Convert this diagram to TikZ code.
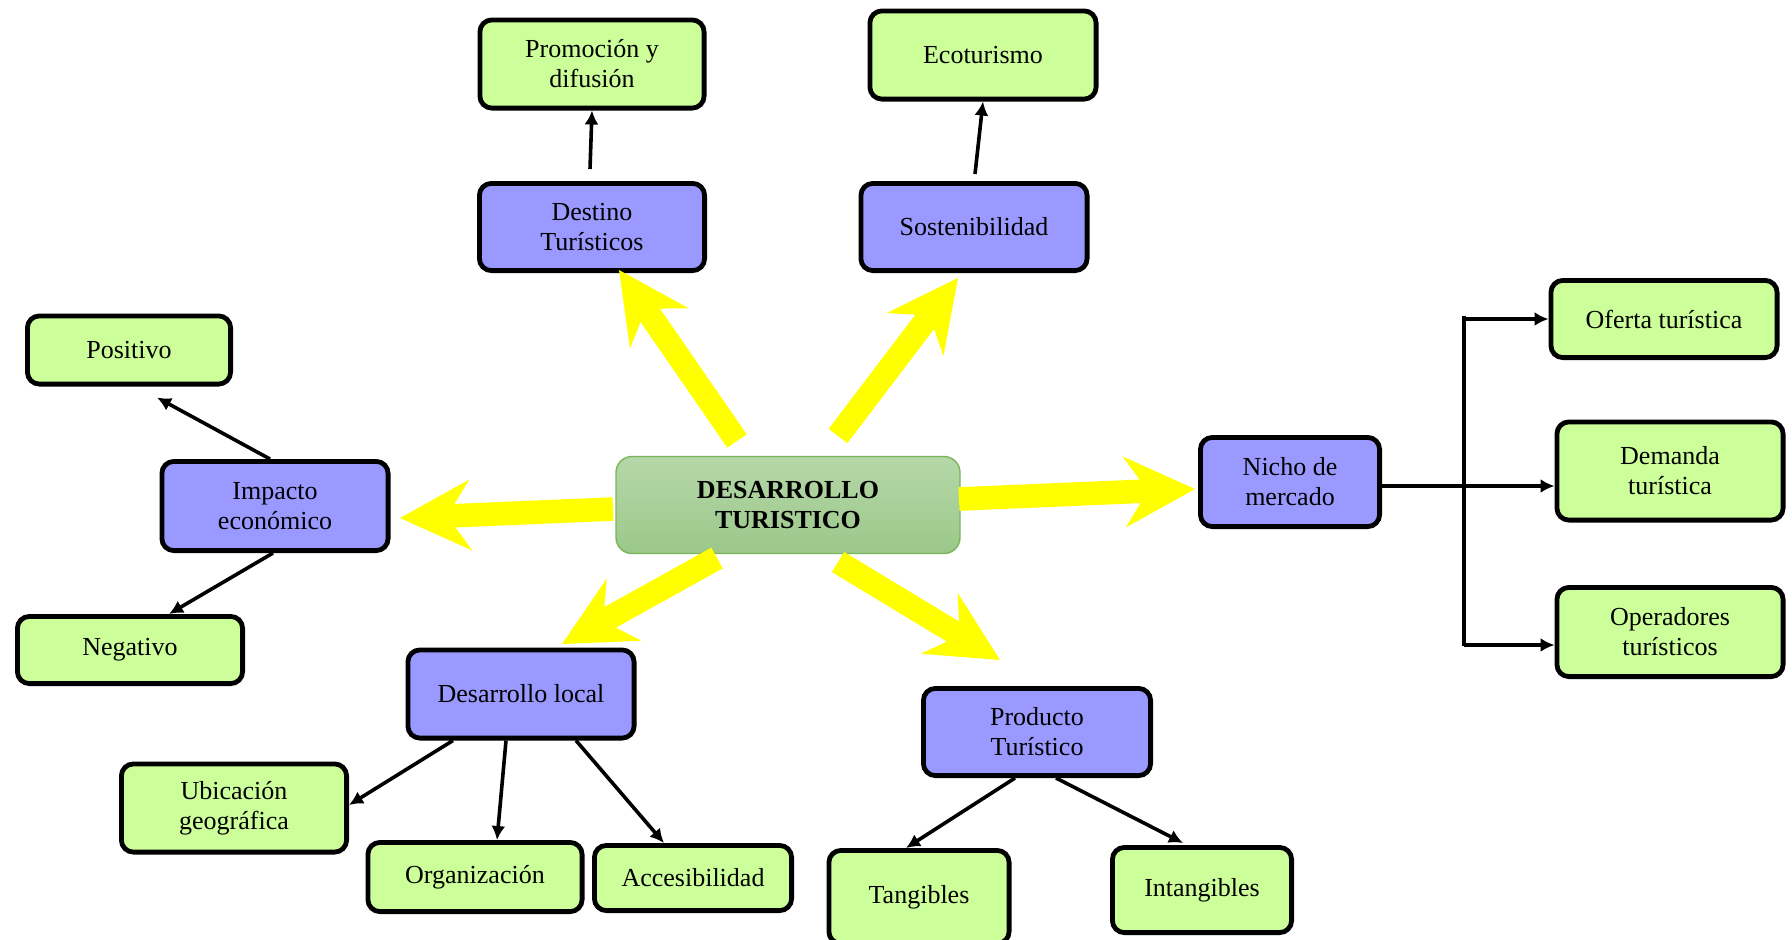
\documentclass[tikz,border=0pt]{standalone}
\usepackage{fontspec}
\setmainfont{Liberation Serif}
\usetikzlibrary{calc,arrows.meta}
\definecolor{purp}{HTML}{9999FF}
\definecolor{lgreen}{HTML}{CCFF99}
\definecolor{ctop}{HTML}{B6D7A8}
\definecolor{cbot}{HTML}{9BC88A}
\definecolor{cline}{HTML}{7AB55C}
\definecolor{yarrowcol}{HTML}{FFFF00}
\newcommand{\yarr}[2]{%
  \fill[yarrowcol] ($(#1)!5.9pt!90:(#2)$)
    -- ($(#2)!27.5pt!(#1)!5.9pt!90:(#2)$)
    -- ($(#2)!35.5pt!(#1)!17.8pt!90:(#2)$)
    -- (#2)
    -- ($(#2)!35.5pt!(#1)!17.8pt!-90:(#2)$)
    -- ($(#2)!27.5pt!(#1)!5.9pt!-90:(#2)$)
    -- ($(#1)!5.9pt!-90:(#2)$) -- cycle;}
\begin{document}
\begin{tikzpicture}[x=0.5pt,y=-0.5pt,
  box/.style={draw=black,line width=2.4pt,rounded corners=6pt,align=center,
    inner sep=0pt,font=\fontsize{13}{15}\selectfont},
  sz/.style 2 args={minimum width=#1*0.5pt-2.4pt,minimum height=#2*0.5pt-2.4pt},
  pbox/.style={box,fill=purp},
  gbox/.style={box,fill=lgreen},
  barrow/.style={line width=1.8pt,-{Latex[length=7pt,width=7pt]}},
  bline/.style={line width=1.8pt},
  ]
\useasboundingbox (0,0) rectangle (1792,939);

% central node
\node[draw=cline,line width=0.7pt,rounded corners=8pt,top color=ctop,bottom color=cbot,
  minimum width=172pt,minimum height=48.5pt,align=center,inner sep=0pt,
  font=\fontsize{13}{15}\selectfont\bfseries] (center) at (788,505) {DESARROLLO\\TURISTICO};

% level 1 (purple)
\node[pbox,sz={230}{92}] (dest) at (592,227) {Destino\\Turísticos};
\node[pbox,sz={231}{92}] (sost) at (974,227) {Sostenibilidad};
\node[pbox,sz={231}{94}] (imp) at (275,506) {Impacto\\económico};
\node[pbox,sz={184}{94}] (nicho) at (1290,482) {Nicho de\\mercado};
\node[pbox,sz={231}{93}] (dl) at (521,694) {Desarrollo local};
\node[pbox,sz={232}{92}] (prod) at (1037,732) {Producto\\Turístico};

% level 2 (green)
\node[gbox,sz={229}{93}] (promo) at (592,64) {Promoción y\\difusión};
\node[gbox,sz={231}{93}] (eco) at (983,55) {Ecoturismo};
\node[gbox,sz={208}{73}] (pos) at (129,350) {Positivo};
\node[gbox,sz={230}{72}] (neg) at (130,650) {Negativo};
\node[gbox,sz={231}{82}] (ofer) at (1664,319) {Oferta turística};
\node[gbox,sz={231}{103}] (dem) at (1670,471) {Demanda\\turística};
\node[gbox,sz={231}{94}] (oper) at (1670,632) {Operadores\\turísticos};
\node[gbox,sz={230}{93}] (ubic) at (234,808) {Ubicación\\geográfica};
\node[gbox,sz={219}{74}] (org) at (475,877) {Organización};
\node[gbox,sz={202}{70}] (acc) at (693,878) {Accesibilidad};
\node[gbox,sz={185}{98}] (tang) at (919,897) {Tangibles};
\node[gbox,sz={184}{90}] (intang) at (1202,890) {Intangibles};

% yellow arrows
\coordinate (y1s) at (737,441); \coordinate (y1t) at (619,270);
\coordinate (y2s) at (838,436); \coordinate (y2t) at (958,278);
\coordinate (y3s) at (613,509); \coordinate (y3t) at (400,518);
\coordinate (y4s) at (959,499); \coordinate (y4t) at (1195,489);
\coordinate (y5s) at (717,558); \coordinate (y5t) at (562,644);
\coordinate (y6s) at (838,562); \coordinate (y6t) at (1000,660);
\yarr{y1s}{y1t}
\yarr{y2s}{y2t}
\yarr{y3s}{y3t}
\yarr{y4s}{y4t}
\yarr{y5s}{y5t}
\yarr{y6s}{y6t}

% black arrows
\draw[barrow] ($(dest.north)+(-2,-12)$) -- (promo.south);
\draw[barrow] ($(sost.north)+(1,-7)$) -- (eco.south);
\draw[barrow] ($(imp.north)+(-5,0)$) -- ($(pos.south)+(28,11)$);
\draw[barrow] ($(imp.south)+(-2,0)$) -- ($(neg.north)+(39,0)$);
\draw[barrow] ($(dl.south)+(-68,0)$) -- ($(ubic.east)+(0,-3)$);
\draw[barrow] ($(dl.south)+(-15,0)$) -- ($(org.north)+(22,0)$);
\draw[barrow] ($(dl.south)+(55,0)$) -- ($(acc.north)+(-29,0)$);
\draw[barrow] ($(prod.south)+(-22,0)$) -- ($(tang.north)+(-13,0)$);
\draw[barrow] ($(prod.south)+(19,0)$) -- ($(intang.north)+(-19,-2)$);

% bracket from Nicho de mercado
\coordinate (nr) at ($(nicho.east)+(0,4)$);
\coordinate (bt) at (1464,319);
\coordinate (bb) at (1464,645);
\draw[bline] ($(bt)+(0,-3)$) -- ($(bb)+(0,1)$);
\draw[barrow] (nr) -- (nr -| dem.west);
\draw[barrow] (bt) -- (bt -| ofer.west);
\draw[barrow] (bb) -- (bb -| oper.west);
\end{tikzpicture}
\end{document}
